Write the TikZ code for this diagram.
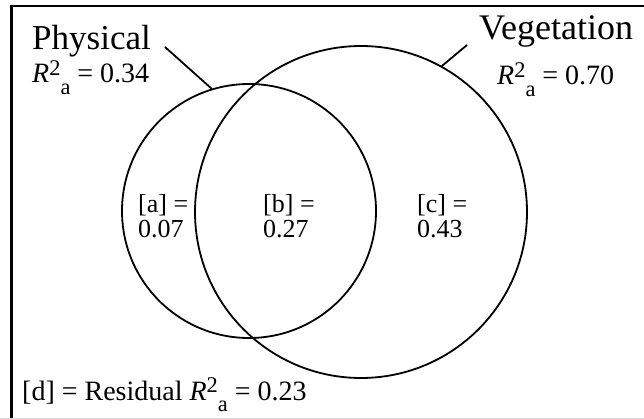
\documentclass[tikz,border=0pt]{standalone}
\usepackage{fontspec}
\setmainfont{Liberation Serif}
\usepackage{tikz}

\newcommand{\Rsqa}{\textit{R}\raisebox{0.28em}{\scalebox{0.8}{2}}\raisebox{-0.42em}{\scalebox{0.8}{a}}}

\begin{document}
\begin{tikzpicture}[x=1pt,y=-1pt,
  venn/.style={draw,circle,line width=1.8pt,inner sep=0pt},
  setname/.style={font=\fontsize{35}{37}\selectfont,inner sep=0pt,anchor=base west},
  rsq/.style={font=\fontsize{28}{30}\selectfont,inner sep=0pt,anchor=base west},
  part/.style={font=\fontsize{26}{25}\selectfont,align=left,inner sep=0pt,anchor=base west},
  lead/.style={line width=1.8pt}]
  \useasboundingbox (0,0) rectangle (644,419);
  \draw[line width=2.6pt] (11.5,419) -- (11.5,6) -- (644,6);
  \draw[black!15,line width=0.8pt] (0,418.5) -- (644,418.5);
  \node[venn,minimum size=254pt] (phys) at (249,211) {};
  \node[venn,minimum size=332pt] (veg) at (361,212) {};
  \node[setname] (physname) at (32,50) {Physical};
  \node[rsq] (physrsq) at (32,83) {\Rsqa{} = 0.34};
  \node[setname,font=\fontsize{36}{38}\selectfont] (vegname) at (479,40) {Vegetation};
  \node[rsq] (vegrsq) at (497,85) {\Rsqa{} = 0.70};
  \coordinate (physend) at (165,47);
  \coordinate (vegend) at (467,45);
  \draw[lead] (physend) -- (phys.107);
  \draw[lead] (vegend) -- (veg.61.5);
  \node[part] (parta) at (138,238) {[a] =\\0.07};
  \node[part] (partb) at (263,238) {[b] =\\0.27};
  \node[part] (partc) at (417,238) {[c] =\\0.43};
  \node[rsq] (partd) at (22,400) {[d] = Residual \Rsqa{} = 0.23};
\end{tikzpicture}
\end{document}
